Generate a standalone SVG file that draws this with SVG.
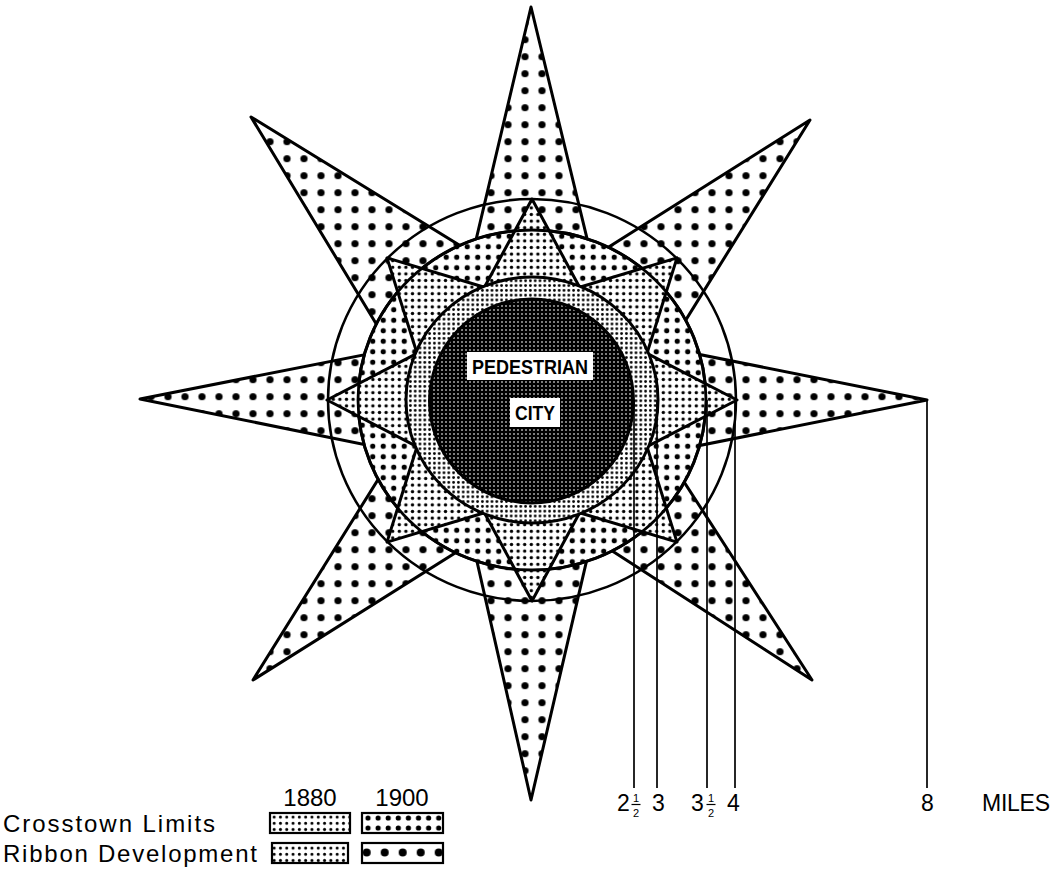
<svg xmlns="http://www.w3.org/2000/svg" width="1060" height="873" viewBox="0 0 1060 873">
<style>
.ol{stroke:#000;stroke-width:3;stroke-linejoin:round}
.ln{stroke:#000;stroke-width:1.7;fill:none}
.t{font-family:'Liberation Sans',Arial,sans-serif;fill:#000}
.fr{font-family:'Liberation Sans',Arial,sans-serif;fill:#000;font-size:11px;text-anchor:middle}
.box{fill:#fff}
.bt{font-family:'Liberation Sans Narrow','Liberation Sans',Arial,sans-serif;font-weight:bold;font-size:21px;fill:#000}
</style>
<defs>
<pattern id="pBig" patternUnits="userSpaceOnUse" x="159.5" y="388.2" width="17" height="17"><rect width="17" height="17" fill="#fff"/><circle cx="8.5" cy="8.5" r="3.6" fill="#000"/></pattern>
<pattern id="pMed" patternUnits="userSpaceOnUse" x="0" y="0" width="10.5" height="10.5"><rect width="10.5" height="10.5" fill="#fff"/><circle cx="5.25" cy="5.25" r="2.6" fill="#000"/></pattern>
<pattern id="pSm" patternUnits="userSpaceOnUse" x="0" y="0" width="6.6" height="6.6"><rect width="6.6" height="6.6" fill="#fff"/><circle cx="3.3" cy="3.3" r="1.7" fill="#000"/></pattern>
<pattern id="pFine" patternUnits="userSpaceOnUse" x="0" y="0" width="4.8" height="4.8"><rect width="4.8" height="4.8" fill="#fff"/><circle cx="2.4" cy="2.4" r="1.4" fill="#000"/></pattern>
<pattern id="pDark" patternUnits="userSpaceOnUse" x="0" y="0" width="4" height="4"><rect width="4" height="4" fill="#000"/><rect x="1.3" y="1.3" width="1.4" height="1.4" fill="#fff"/></pattern>
<pattern id="lFine" patternUnits="userSpaceOnUse" x="271" y="814" width="6.3" height="6.2"><rect width="6.3" height="6.2" fill="#fff"/><circle cx="3.15" cy="3.1" r="1.5" fill="#000"/></pattern>
<pattern id="lMed" patternUnits="userSpaceOnUse" x="363" y="813" width="10.1" height="10"><rect width="10.1" height="10" fill="#fff"/><circle cx="5" cy="5" r="2.6" fill="#000"/></pattern>
<pattern id="lBig" patternUnits="userSpaceOnUse" x="357.7" y="843" width="18" height="20"><rect width="18" height="20" fill="#fff"/><circle cx="9" cy="9.5" r="4" fill="#000"/></pattern>
</defs>
<rect width="1060" height="873" fill="#fff"/>

<g id="ribbon-1900">
<polygon class="ol" fill="url(#pBig)" points="531,7 611.6,340 452.4,340"/>
<polygon class="ol" fill="url(#pBig)" points="810,120 628.9,411.6 519.7,303.2"/>
<polygon class="ol" fill="url(#pBig)" points="927,400 592,467 592,333"/>
<polygon class="ol" fill="url(#pBig)" points="812,680 523.3,493.5 625.5,391.3"/>
<polygon class="ol" fill="url(#pBig)" points="531,800 454,460 610,460"/>
<polygon class="ol" fill="url(#pBig)" points="253,680 435.1,388.1 544.3,496.9"/>
<polygon class="ol" fill="url(#pBig)" points="140,399 472,333.6 472,466.4"/>
<polygon class="ol" fill="url(#pBig)" points="251,117 547.9,299.6 431.5,415.2"/>
</g>

<g id="outer-circle">
<ellipse cx="532" cy="400" rx="204" ry="201" fill="none" stroke="#000" stroke-width="2.5"/>
</g>

<g id="crosstown-1900">
<ellipse class="ol" cx="532" cy="400" rx="174" ry="170" fill="url(#pMed)"/>
</g>

<g id="ribbon-1880">
<polygon class="ol" fill="url(#pSm)" points="532,199 579.6,287.3 677,257.9 647,353.3 737,400 647,446.7 677,542.1 579.6,512.7 532,601 484.4,512.7 387,542.1 417,446.7 327,400 417,353.3 387,257.9 484.4,287.3"/>
<ellipse cx="532" cy="400" rx="174" ry="170" fill="none" stroke="#000" stroke-width="2.8"/>
</g>

<g id="crosstown-1880">
<ellipse class="ol" cx="532" cy="400" rx="126" ry="123" fill="url(#pFine)"/>
</g>

<g id="pedestrian-city">
<circle class="ol" cx="531.5" cy="401" r="102" fill="url(#pDark)"/>
<rect class="box" x="467" y="352" width="126" height="28"/>
<text class="bt" x="472" y="373.5" textLength="116" lengthAdjust="spacingAndGlyphs">PEDESTRIAN</text>
<rect class="box" x="510" y="398" width="50" height="29"/>
<text class="bt" x="515" y="420" textLength="40" lengthAdjust="spacingAndGlyphs">CITY</text>
</g>

<g id="connectors">
<line class="ln" x1="634" y1="400" x2="634" y2="788"/>
<line class="ln" x1="657" y1="400" x2="657" y2="788"/>
<line class="ln" x1="707" y1="400" x2="707" y2="788"/>
<line class="ln" x1="735" y1="400" x2="735" y2="788"/>
<line class="ln" x1="927" y1="400" x2="927" y2="788"/>
</g>

<g id="scale-labels">
<text class="t" x="617" y="811" font-size="23">2</text>
<text class="fr" x="636" y="802">1</text>
<line x1="631.5" y1="804.5" x2="640.5" y2="804.5" stroke="#000" stroke-width="1.2"/>
<text class="fr" x="636" y="817">2</text>
<text class="t" x="652" y="811" font-size="23">3</text>
<text class="t" x="691" y="811" font-size="23">3</text>
<text class="fr" x="711" y="802">1</text>
<line x1="706.5" y1="804.5" x2="715.5" y2="804.5" stroke="#000" stroke-width="1.2"/>
<text class="fr" x="711" y="817">2</text>
<text class="t" x="727" y="811" font-size="23">4</text>
<text class="t" x="921" y="811" font-size="23">8</text>
<text class="t" x="982" y="811" font-size="23" textLength="68">MILES</text>
</g>

<g id="legend">
<text class="t" x="310" y="806" font-size="24" text-anchor="middle">1880</text>
<text class="t" x="402" y="806" font-size="24" text-anchor="middle">1900</text>
<text class="t" x="3" y="832" font-size="24" textLength="212">Crosstown Limits</text>
<text class="t" x="3" y="862" font-size="24" textLength="254">Ribbon Development</text>
<rect x="270" y="813" width="80" height="20" fill="url(#lFine)" stroke="#000" stroke-width="2.2"/>
<rect x="362" y="813" width="81" height="20" fill="url(#lMed)" stroke="#000" stroke-width="2.2"/>
<rect x="272" y="843" width="76" height="20" fill="url(#lFine)" stroke="#000" stroke-width="2.2"/>
<rect x="362" y="843" width="81" height="20" fill="url(#lBig)" stroke="#000" stroke-width="2.2"/>
</g>
</svg>
